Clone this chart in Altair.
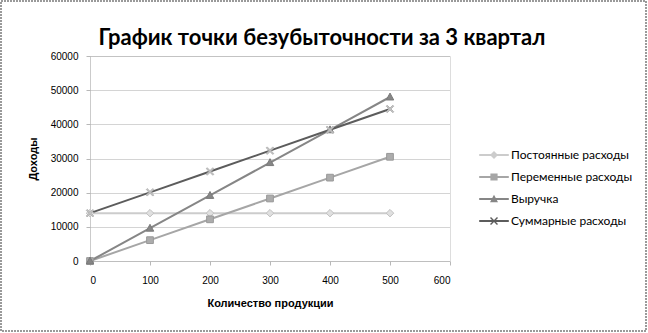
import altair as alt
import pandas as pd

quantity = [0, 100, 200, 300, 400, 500]
fixed_costs = [14000, 14000, 14000, 14000, 14000, 14000]
variable_costs = [0, 6100, 12200, 18300, 24400, 30500]
revenue = [0, 9600, 19200, 28800, 38400, 48000]
total_costs = [14000, 20100, 26200, 32300, 38400, 44500]

series_names = ["Постоянные расходы", "Переменные расходы", "Выручка", "Суммарные расходы"]
series_values = [fixed_costs, variable_costs, revenue, total_costs]
title_text = "График точки безубыточности за 3 квартал"

rows = []
for name, vals in zip(series_names, series_values):
    for q, v in zip(quantity, vals):
        rows.append({"q": q, "v": v, "s": name})
df = pd.DataFrame(rows)

line_colors = ["#cccccc", "#a6a6a6", "#868686", "#5c5c5c"]
marker_fill = ["#e0e0e0", "#acacac", "#868686", "#c4c4c4"]
marker_stroke = ["#c0c0c0", "#999999", "#7a7a7a", "#b4b4b4"]

diamond = "M0,-1L1,0L0,1L-1,0Z"
square = "M-0.9,-0.9L0.9,-0.9L0.9,0.9L-0.9,0.9Z"
triangle = "M0,-1.05L1,0.8L-1,0.8Z"
xshape = "M-1,-0.75L-0.75,-1L0,-0.25L0.75,-1L1,-0.75L0.25,0L1,0.75L0.75,1L0,0.25L-0.75,1L-1,0.75L-0.25,0Z"
shapes = [diamond, square, triangle, xshape]
seg = "M-3.7,-0.22L3.7,-0.22L3.7,0.22L-3.7,0.22Z"
legend_shapes = [seg + s for s in shapes]

FONT = "Lato"

x_enc = alt.X("q:Q", scale=alt.Scale(domain=[0, 600]),
              axis=alt.Axis(values=[0, 100, 200, 300, 400, 500, 600], title="Количество продукции",
                            grid=False, labelPadding=10, titlePadding=12, tickSize=4,
                            domainColor="#b8b8b8", tickColor="#b8b8b8", domainDash=[1, 1]))
y_enc = alt.Y("v:Q", scale=alt.Scale(domain=[0, 60000]),
              axis=alt.Axis(values=[0, 10000, 20000, 30000, 40000, 50000, 60000], title="Доходы",
                            format="d", grid=True, gridDash=[1, 1], gridColor="#a8a8a8",
                            labelPadding=8, titlePadding=12, tickSize=4, domainColor="#b8b8b8",
                            tickColor="#b8b8b8", domainDash=[1, 1]))

base = alt.Chart(df).encode(x=x_enc, y=y_enc)

lines = base.mark_line(strokeWidth=2).encode(
    color=alt.Color("s:N", scale=alt.Scale(domain=series_names, range=line_colors),
                    sort=series_names, legend=None),
    detail="s:N",
)

points = base.mark_point(filled=True, size=56, opacity=1, strokeWidth=1).encode(
    shape=alt.Shape("s:N", scale=alt.Scale(domain=series_names, range=shapes), sort=series_names,
                    legend=None),
    fill=alt.Fill("s:N", scale=alt.Scale(domain=series_names, range=marker_fill), sort=series_names,
                  legend=None),
    stroke=alt.Stroke("s:N", scale=alt.Scale(domain=series_names, range=marker_stroke),
                      sort=series_names, legend=None),
)

leg = alt.Legend(title=None, orient="none", legendX=398, legendY=93, labelFont=FONT,
                 labelFontSize=12, labelColor="#000", rowPadding=10, symbolSize=64,
                 labelOffset=11, symbolOpacity=1, symbolStrokeWidth=0)
legend_layer = base.mark_point(filled=True, size=64, opacity=0).encode(
    shape=alt.Shape("s:N", scale=alt.Scale(domain=series_names, range=legend_shapes),
                    sort=series_names, legend=leg),
    fill=alt.Fill("s:N", scale=alt.Scale(domain=series_names, range=line_colors),
                  sort=series_names, legend=leg),
)

frame = alt.Chart(df).mark_rect(fill=None, stroke="#9a9a9a", strokeWidth=1.5, strokeDash=[2, 1],
                                clip=False).encode(
    x=alt.value(-89), x2=alt.value(556), y=alt.value(-55), y2=alt.value(275)
)

title = alt.Chart(pd.DataFrame({"t": [title_text]})).mark_text(
    font=FONT, fontSize=22, fontWeight="bold", color="#000", align="center", baseline="middle",
    clip=False
).encode(text="t:N", x=alt.value(232), y=alt.value(-18))

chart = alt.layer(frame, lines, points, legend_layer, title).properties(
    width=360, height=205,
    autosize=alt.AutoSizeParams(type="none"),
    padding={"left": 90, "top": 56, "right": 198, "bottom": 72},
).resolve_scale(shape="independent", fill="independent").configure_view(stroke=None).configure_axis(
    labelFont=FONT, labelFontSize=13, labelColor="#111", titleFont=FONT, titleFontSize=12,
    titleFontWeight="bold", titleColor="#000"
).configure(background="white")

chart.save("out.html", embed_options={"renderer": "svg", "actions": False})
